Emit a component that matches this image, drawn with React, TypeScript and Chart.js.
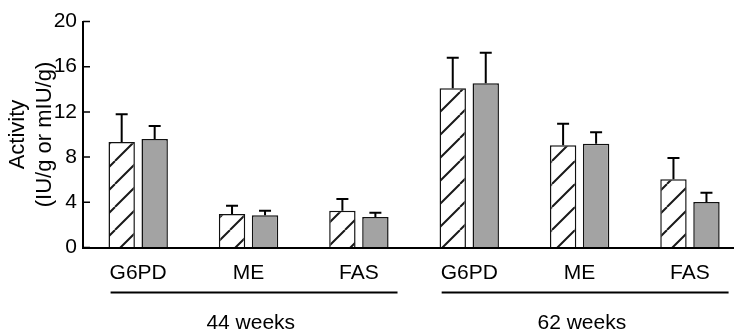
import React, { useEffect, useRef } from "react";
import { Chart, registerables } from "chart.js";
Chart.register(...registerables);

const categories = ["G6PD", "ME", "FAS", "G6PD", "ME", "FAS"];
const groupLabels = ["44 weeks", "62 weeks"];
const groupMembers = [[0, 1, 2], [3, 4, 5]];
const hatchedMeans = [9.34, 2.96, 3.26, 14.09, 9.04, 6.03];
const hatchedSD = [2.46, 0.74, 1.03, 2.71, 1.92, 1.89];
const greyMeans = [9.6, 2.85, 2.7, 14.53, 9.19, 4.03];
const greySD = [1.15, 0.41, 0.38, 2.71, 1.01, 0.82];
const yTicks = [0, 4, 8, 12, 16, 20];
const yTitle = ["Activity", "(IU/g or mIU/g)"];

const FONT = "'Liberation Sans', Arial, Helvetica, sans-serif";

function makeHatch(): CanvasPattern | string {
  const s = 23;
  const c = document.createElement("canvas");
  c.width = s;
  c.height = s;
  const g = c.getContext("2d");
  if (!g) return "#fff";
  g.fillStyle = "#fff";
  g.fillRect(0, 0, s, s);
  g.strokeStyle = "#1a1a1a";
  g.lineWidth = 2;
  g.beginPath();
  for (const k of [-1, 0, 1]) {
    g.moveTo(k * s, s);
    g.lineTo(k * s + s, 0);
  }
  g.stroke();
  return g.createPattern(c, "repeat") || "#fff";
}

const sdLists = [hatchedSD, greySD];

const errorBarPlugin = {
  id: "errorBars",
  afterDatasetsDraw(chart: any) {
    const ctx = chart.ctx;
    const y = chart.scales.y;
    chart.data.datasets.forEach((ds: any, di: number) => {
      const meta = chart.getDatasetMeta(di);
      const sds = sdLists[di];
      meta.data.forEach((bar: any, i: number) => {
        const v = ds.data[i].y;
        const top = y.getPixelForValue(v + sds[i]);
        ctx.save();
        ctx.strokeStyle = "#000";
        ctx.lineWidth = 2;
        ctx.beginPath();
        ctx.moveTo(bar.x, bar.y);
        ctx.lineTo(bar.x, top);
        ctx.moveTo(bar.x - 6, top);
        ctx.lineTo(bar.x + 6, top);
        ctx.stroke();
        ctx.restore();
      });
    });
  },
};

const decorPlugin = {
  id: "decor",
  afterDraw(chart: any) {
    const ctx = chart.ctx;
    const x = chart.scales.x;
    const y = chart.scales.y;
    const area = chart.chartArea;
    ctx.save();
    // inward y ticks
    ctx.strokeStyle = "#000";
    ctx.lineWidth = 1.5;
    ctx.beginPath();
    yTicks.forEach((t) => {
      const py = y.getPixelForValue(t);
      ctx.moveTo(area.left, py);
      ctx.lineTo(area.left + 7, py);
    });
    ctx.stroke();
    // group underlines and labels
    ctx.lineWidth = 2;
    ctx.fillStyle = "#000";
    ctx.font = `21px ${FONT}`;
    ctx.textAlign = "center";
    ctx.textBaseline = "alphabetic";
    groupMembers.forEach((m, gi) => {
      const x1 = x.getPixelForValue(m[0] - 0.25);
      const x2 = x.getPixelForValue(m[m.length - 1] + 0.35);
      ctx.beginPath();
      ctx.moveTo(x1, 292.5);
      ctx.lineTo(x2, 292.5);
      ctx.stroke();
      const cx = x.getPixelForValue((m[0] + m[m.length - 1]) / 2 + 0.02);
      ctx.fillText(groupLabels[gi], cx, 329);
    });
    ctx.restore();
  },
};

export default function App() {
  const ref = useRef<HTMLCanvasElement | null>(null);
  useEffect(() => {
    document.body.style.margin = "0";
    document.body.style.overflow = "hidden";
    const canvas = ref.current;
    if (!canvas) return;
    const hatch = makeHatch();
    const chart = new Chart(canvas, {
      type: "bar",
      data: {
        datasets: [
          {
            label: "hatched",
            data: hatchedMeans.map((v, i) => ({ x: i, y: v })),
            backgroundColor: hatch as any,
            borderColor: "#111",
            borderWidth: 1.5,
            categoryPercentage: 0.598,
            barPercentage: 0.8,
          },
          {
            label: "grey",
            data: greyMeans.map((v, i) => ({ x: i, y: v })),
            backgroundColor: "#a3a3a3",
            borderColor: "#111",
            borderWidth: 1.5,
            categoryPercentage: 0.598,
            barPercentage: 0.8,
          },
        ],
      },
      options: {
        responsive: false,
        animation: false,
        layout: { padding: { left: 4, top: 21.5, right: 1, bottom: 0 } },
        plugins: { legend: { display: false }, tooltip: { enabled: false } },
        scales: {
          x: {
            type: "linear",
            min: -0.5,
            max: 5.39,
            offset: false,
            afterBuildTicks: (scale: any) => {
              scale.ticks = categories.map((_, i) => ({ value: i }));
            },
            afterFit: (scale: any) => {
              scale.height = 83.5;
            },
            grid: { display: true, drawOnChartArea: false, drawTicks: false },
            border: { display: true, color: "#000", width: 2 },
            ticks: {
              autoSkip: false,
              maxRotation: 0,
              minRotation: 0,
              padding: 13,
              color: "#000",
              font: { family: FONT, size: 21 },
              callback: (v: any) => categories[Math.round(Number(v))] ?? "",
            },
          },
          y: {
            min: 0,
            max: 20,
            afterBuildTicks: (scale: any) => {
              scale.ticks = yTicks.map((v) => ({ value: v }));
            },
            afterFit: (scale: any) => {
              scale.width = 79;
            },
            grid: { display: true, drawOnChartArea: false, drawTicks: false },
            border: { display: true, color: "#000", width: 2 },
            ticks: {
              padding: 6,
              color: "#000",
              font: { family: FONT, size: 21 },
            },
            title: {
              display: true,
              text: yTitle,
              color: "#000",
              font: { family: FONT, size: 22, lineHeight: 1.2 },
              padding: { top: 1, bottom: 0 },
            },
          },
        },
      },
      plugins: [errorBarPlugin, decorPlugin],
    });
    return () => chart.destroy();
  }, []);
  return (
    <div style={{ width: 734, height: 331 }}>
      <canvas ref={ref} width={734} height={331} style={{ display: "block" }} />
    </div>
  );
}
